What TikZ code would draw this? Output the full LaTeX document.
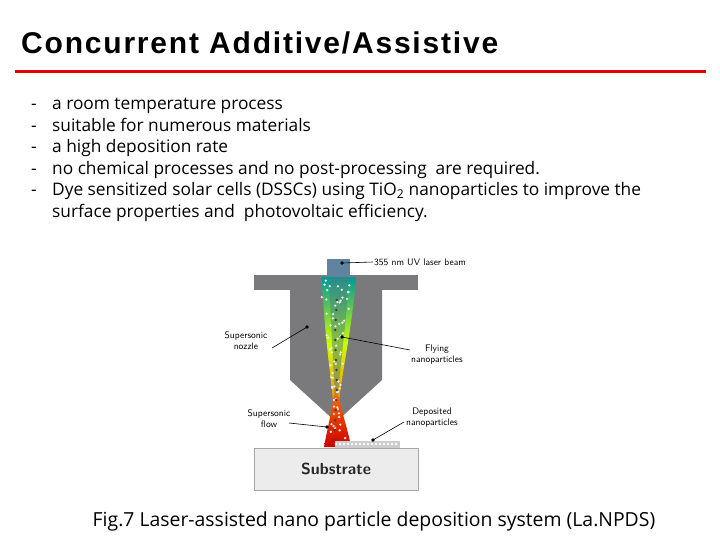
\documentclass[tikz,border=0pt]{standalone}
\usepackage{fontspec}
\setmainfont{Open Sans}
\newfontfamily\titlefont[LetterSpace=6]{Liberation Sans}
\definecolor{noz}{RGB}{122,122,124}
\definecolor{beam}{RGB}{96,132,160}
\begin{document}
\begin{tikzpicture}[x=1pt,y=-1pt,
  lbl/.style={font=\fontsize{9.5}{11}\selectfont\sffamily, align=center, inner sep=1pt},
  lead/.style={black, line width=0.6pt},
  bul/.style={anchor=base west, inner sep=0pt, font=\fontsize{17.3}{18}\selectfont}]
\useasboundingbox (0,0) rectangle (720,540);
\node[anchor=west, inner sep=0pt, font=\titlefont\fontsize{30}{32}\selectfont\bfseries] (title) at (21,43) {Concurrent Additive/Assistive};
\draw[red!90!black, line width=3pt] (15,72) -- (706,72);
\foreach \y/\t [count=\i] in {105/a room temperature process, 127/suitable for numerous materials, 148/a high deposition rate, 170/no chemical processes and no post-processing\ \ are required.}{
  \node[bul] (d\i) at (31,\y+5) {-};
  \node[bul] (t\i) at (52,\y+5) {\t};
}
\node[bul] (d5) at (31,196) {-};
\node[bul] (t5) at (52,196) {Dye sensitized solar cells (DSSCs) using TiO\textsubscript{2} nanoparticles to improve the};
\node[bul] (t6) at (52,218) {surface properties and\ \ photovoltaic efficiency.};
% nozzle
\fill[noz] (254,275) rectangle (418,290);
\fill[noz] (290,289) -- (382,289) -- (382,380) -- (336,422) -- (290,380) -- cycle;
% laser beam
\fill[beam] (327,259) rectangle (350,277);
% cone upper
\shade[top color=teal!80!cyan, bottom color=orange, middle color=yellow!80!green] (322,277) .. controls (324,330) and (330,370) .. (334,410) -- (338,410) .. controls (342,370) and (352,330) .. (356,277) -- cycle;
\fill[gray!60!teal,opacity=0.5] (329,277) .. controls (331,330) and (334,370) .. (335,410) -- (337,410) .. controls (339,370) and (346,330) .. (349,277) -- cycle;
% cone lower
\shade[top color=orange!80!red, bottom color=red!80!black] (334,395) -- (338,395) .. controls (344,420) and (348,430) .. (351,447) -- (324,447) .. controls (327,430) and (330,420) .. (334,395) -- cycle;
% particles
\pgfmathsetseed{7}
\foreach \k in {1,...,70}{
  \pgfmathsetmacro{\yy}{280+rnd*165}
  \pgfmathsetmacro{\w}{\yy<410 ? 15*(410-\yy)/133+2 : 2+11*(\yy-410)/37}
  \pgfmathsetmacro{\xx}{336+(2*rnd-1)*\w}
  \fill[white!85!gray] (\xx,\yy) circle (1.3);
}
\foreach \yy in {300,310,...,440}{\pgfmathsetmacro{\xx}{336+0.8*sin(\yy*4)}\fill[gray!50!black] (\xx,\yy) circle (1.4);}
% deposited layer
\fill[gray!40] (335,441) rectangle (400,448);
\foreach \xx in {336,340,...,398}{\fill[white] (\xx,444) circle (1.3);}
% substrate
\node[draw=gray!70, fill=gray!15, minimum width=164pt, minimum height=42pt, inner sep=0pt, anchor=north west] (sub) at (254,448) {};
\node[font=\sffamily\bfseries\fontsize{16}{18}\selectfont, text=black!85] (subt) at (336,469) {Substrate};
% labels
\node[lbl, anchor=west] (laser) at (373,262) {355 nm UV laser beam};
\coordinate (plaser) at (342,263);
\fill (plaser) circle (1.8); \draw[lead] (plaser) -- (laser.west);
\node[lbl] (nozzle) at (246,341) {Supersonic\\nozzle};
\coordinate (pnoz) at (307,327);
\fill (pnoz) circle (1.8); \draw[lead] (pnoz) -- (272,348);
\node[lbl] (fly) at (437,355) {Flying\\nanoparticles};
\coordinate (pfly) at (342,337);
\fill (pfly) circle (1.8); \draw[lead] (pfly) -- (410,350);
\node[lbl] (flow) at (269,419) {Supersonic\\flow};
\coordinate (pflow) at (327,427);
\fill (pflow) circle (1.8); \draw[lead] (pflow) -- (289,423);
\node[lbl] (dep) at (432,418) {Deposited\\nanoparticles};
\coordinate (pdep) at (373,440);
\fill (pdep) circle (1.8); \draw[lead] (pdep) -- (404,422);
\node[font=\fontsize{19.4}{21}\selectfont] (cap) at (374,521) {Fig.7 Laser-assisted nano particle deposition system (La.NPDS)};
\end{tikzpicture}
\end{document}
